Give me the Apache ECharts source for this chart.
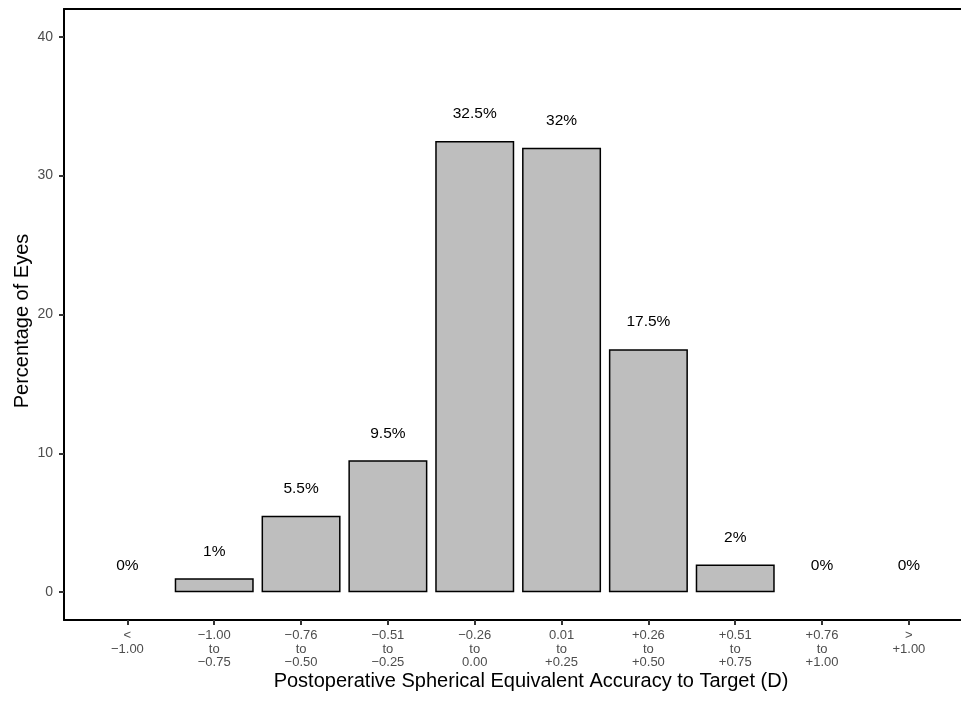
<!DOCTYPE html>
<html>
<head>
<meta charset="utf-8">
<script src="https://cdn.jsdelivr.net/npm/echarts@6/dist/echarts.min.js"></script>
<style>
html,body{margin:0;padding:0;background:#fff;}
#chart{width:961px;height:722px;}
</style>
</head>
<body>
<div id="chart"></div>
<script>
const categories = ["<\n\u22121.00", "\u22121.00\nto\n\u22120.75", "\u22120.76\nto\n\u22120.50", "\u22120.51\nto\n\u22120.25", "\u22120.26\nto\n0.00", "0.01\nto\n+0.25", "+0.26\nto\n+0.50", "+0.51\nto\n+0.75", "+0.76\nto\n+1.00", ">\n+1.00"];
const percentages = [0, 1, 5.5, 9.5, 32.5, 32, 17.5, 2, 0, 0];
const yTicks = [0, 10, 20, 30, 40];
const xTitle = "Postoperative Spherical Equivalent Accuracy to Target (D)";
const yTitle = "Percentage of Eyes";

const positions = categories.map((c, i) => i + 1);
const font = "'Liberation Sans', Arial, Helvetica, sans-serif";

const chart = echarts.init(document.getElementById('chart'));
chart.setOption({
  animation: false,
  backgroundColor: '#ffffff',
  grid: {
    left: 64, top: 9, right: 0, bottom: 102,
    show: false, containLabel: false
  },
  xAxis: [{
    type: 'value',
    min: 0.27, max: 10.60,
    splitLine: { show: false },
    axisLine: { show: true, onZero: false, lineStyle: { color: '#000', width: 2 } },
    axisTick: { show: true, length: 5, customValues: positions, lineStyle: { color: '#333', width: 2 } },
    axisLabel: {
      customValues: positions,
      formatter: v => categories[Math.round(v) - 1] || '',
      color: '#4d4d4d', fontSize: 13, lineHeight: 13.5, margin: 9, fontFamily: font
    }
  }, {
    type: 'value', position: 'top',
    min: 0.27, max: 10.60,
    splitLine: { show: false },
    axisLine: { show: true, onZero: false, lineStyle: { color: '#000', width: 2 } },
    axisTick: { show: false },
    axisLabel: { show: false }
  }],
  yAxis: {
    type: 'value',
    min: -2, max: 42,
    splitLine: { show: false },
    axisLine: { show: true, onZero: false, lineStyle: { color: '#000', width: 2 } },
    axisTick: { show: true, length: 5, customValues: yTicks, lineStyle: { color: '#333', width: 2 } },
    axisLabel: { customValues: yTicks, color: '#4d4d4d', fontSize: 14, margin: 11, fontFamily: font }
  },
  graphic: [
    { type: 'text', x: 531, y: 681, style: { text: xTitle, fill: '#000', font: '20px ' + font, align: 'center', verticalAlign: 'middle' } },
    { type: 'text', x: 22, y: 321, rotation: Math.PI / 2, style: { text: yTitle, fill: '#000', font: '20px ' + font, align: 'center', verticalAlign: 'middle' } }
  ],
  series: [{
    type: 'bar',
    xAxisIndex: 0,
    data: positions.map((p, i) => ({
      value: [p, percentages[i]],
      itemStyle: percentages[i] === 0 ? { borderWidth: 0, color: 'rgba(0,0,0,0)' } : undefined
    })),
    barWidth: 79,
    itemStyle: { color: '#bebebe', borderColor: '#000', borderWidth: 1.5 },
    label: {
      show: true, position: 'top', distance: 19,
      formatter: p => p.value[1] + '%',
      color: '#000', fontSize: 15.5, fontFamily: font
    }
  }]
});
</script>
</body>
</html>
